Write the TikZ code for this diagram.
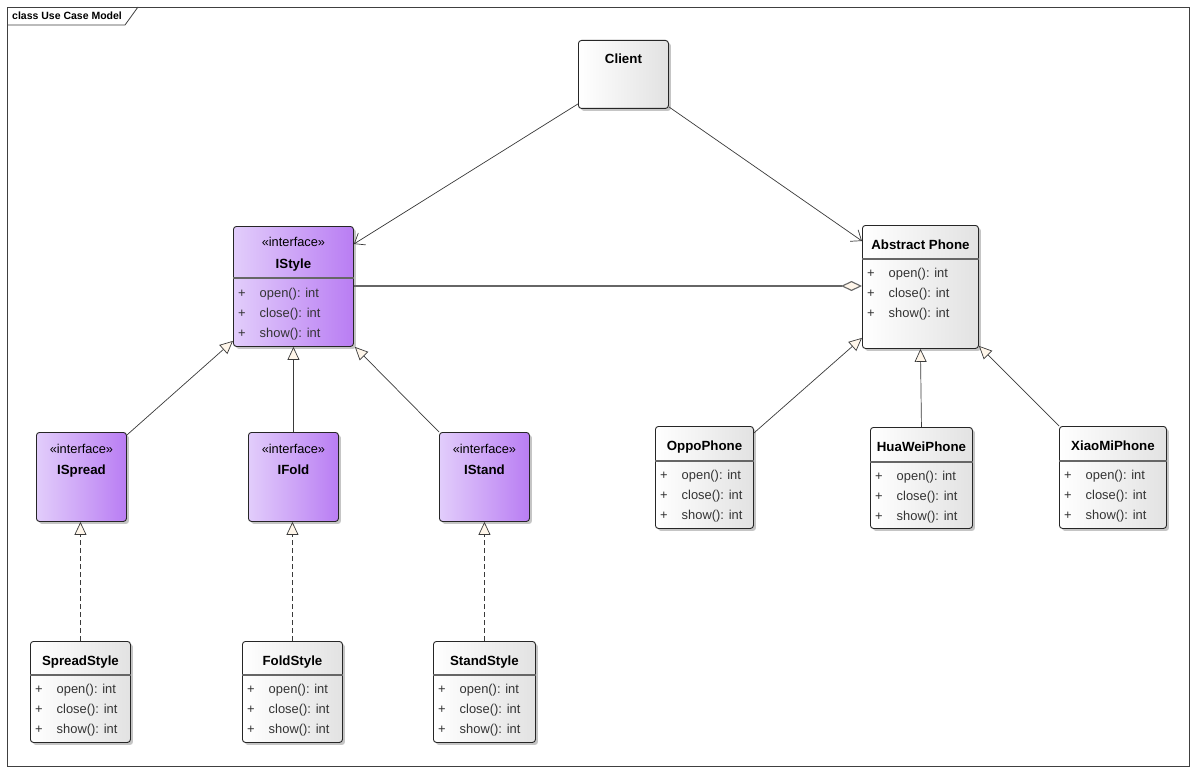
\documentclass[tikz,border=0pt]{standalone}
\usepackage{fontspec}
\setmainfont{Liberation Sans}
\usepackage{tikz}
\usetikzlibrary{arrows.meta, shadows}
\definecolor{IfcLight}{HTML}{E2CDFB}
\definecolor{IfcDark}{HTML}{B97DF3}
\definecolor{ClsGray}{HTML}{E2E2E2}
\definecolor{TipFill}{HTML}{FFF6EA}
\definecolor{LineGray}{HTML}{3A3A3A}
\tikzset{
  box/.style={rectangle, rounded corners=3pt, draw=black!85, line width=0.9pt,
              anchor=north west, inner sep=0,
              drop shadow={shadow xshift=2.5pt, shadow yshift=-2.5pt, fill=black!45, opacity=0.5}},
  cls/.style={box, left color=white, right color=ClsGray},
  ifc/.style={box, left color=IfcLight, right color=IfcDark},
  ttl/.style={font=\fontsize{13.3}{15}\selectfont\bfseries, inner sep=0, anchor=base},
  ster/.style={font=\fontsize{12.8}{15}\selectfont, inner sep=0, anchor=base},
  op/.style={font=\fontsize{12.9}{15}\selectfont, inner sep=0, anchor=base west, text=black!80},
  sep/.style={line width=1.4pt, draw=black!60},
  assoc/.style={-{Straight Barb[length=9pt,width=14pt]}, line width=0.7pt, draw=LineGray},
  gen/.style={-{Triangle[length=13pt,width=12pt,fill=TipFill]}, line width=0.7pt, draw=LineGray},
  real/.style={gen, dash pattern=on 5pt off 3pt},
  aggr/.style={-{Diamond[length=21pt,width=10pt,fill=TipFill]}, line width=1.1pt, draw=black!60},
}

\begin{document}
\begin{tikzpicture}[x=1pt, y=-1pt]

  \fill[white] (0,0) rectangle (1196,773);
  \useasboundingbox (0,0) rectangle (1196,773);

  % Frame
  \draw[black!75, line width=0.8pt] (7,7) rectangle (1189,766);
  \draw[black!75, line width=0.8pt] (7,25) -- (125,25) -- (138,7);
  \node[font=\fontsize{10.5}{12}\selectfont\bfseries, inner sep=0, anchor=base west] (frame) at (12,20)
    {class Use Case Model};

  % Client
  \node[cls, minimum width=90, minimum height=68] (client) at (578,40) {};
  \node[ttl] (client-t) at ([yshift=-24]client.north) {Client};

  % IStyle
  \node[ifc, minimum width=120, minimum height=120] (istyle) at (233,226) {};
  \node[ster] (istyle-s) at ([yshift=-20.5]istyle.north) {«interface»};
  \node[ttl] (istyle-t) at ([yshift=-42]istyle.north) {IStyle};

  % Abstract Phone
  \node[cls, minimum width=116, minimum height=123] (absphone) at (862,225) {};
  \node[ttl] (absphone-t) at ([yshift=-24]absphone.north) {Abstract Phone};

  % sub interfaces
  \node[ifc, minimum width=90, minimum height=89] (ispread) at (36,432) {};
  \node[ster] (ispread-s) at ([yshift=-21.5]ispread.north) {«interface»};
  \node[ttl] (ispread-t) at ([yshift=-42]ispread.north) {ISpread};

  \node[ifc, minimum width=90, minimum height=89] (ifold) at (248,432) {};
  \node[ster] (ifold-s) at ([yshift=-21.5]ifold.north) {«interface»};
  \node[ttl] (ifold-t) at ([yshift=-42]ifold.north) {IFold};

  \node[ifc, minimum width=90, minimum height=89] (istand) at (439,432) {};
  \node[ster] (istand-s) at ([yshift=-21.5]istand.north) {«interface»};
  \node[ttl] (istand-t) at ([yshift=-42]istand.north) {IStand};

  % style classes
  \node[cls, minimum width=100, minimum height=101] (spreadst) at (30,641) {};
  \node[ttl] (spreadst-t) at ([yshift=-24]spreadst.north) {SpreadStyle};

  \node[cls, minimum width=100, minimum height=101] (foldst) at (242,641) {};
  \node[ttl] (foldst-t) at ([yshift=-24]foldst.north) {FoldStyle};

  \node[cls, minimum width=102, minimum height=101] (standst) at (433,641) {};
  \node[ttl] (standst-t) at ([yshift=-24]standst.north) {StandStyle};

  % phones
  \node[cls, minimum width=98, minimum height=102] (oppo) at (655,426) {};
  \node[ttl] (oppo-t) at ([yshift=-24.5]oppo.north) {OppoPhone};

  \node[cls, minimum width=102, minimum height=101] (huawei) at (870,427) {};
  \node[ttl] (huawei-t) at ([yshift=-24.5]huawei.north) {HuaWeiPhone};

  \node[cls, minimum width=107, minimum height=102] (xiaomi) at (1059,426) {};
  \node[ttl] (xiaomi-t) at ([yshift=-24.5]xiaomi.north) {XiaoMiPhone};

  % separators and operations
  \foreach \cl/\sp/\off in {istyle/52/51.5, absphone/34/32.5, spreadst/34/32.5, foldst/34/32.5,
                            standst/34/32.5, oppo/35/33.5, huawei/35/33.5, xiaomi/35/33.5} {
    \draw[sep] ([yshift=-\sp]\cl.north west) -- ([yshift=-\sp]\cl.north east);
    \foreach \op [count=\i] in {open, close, show}
      \node[op] (\cl-\op) at ([xshift=5, yshift=-(\off+20*\i)]\cl.north west) {+\hspace{14pt}\op(): int};
  }

  % Arrows
  \draw[assoc] ([yshift=5]client.south west) -- ([yshift=-18]istyle.north east);
  \draw[assoc] ([yshift=2]client.south east) -- ([yshift=-16]absphone.north west);
  \draw[aggr] ([yshift=-60]istyle.north east) -- ([yshift=-61]absphone.north west);
  \draw[gen] ([yshift=-3]ispread.north east) -- ([yshift=6]istyle.south west);
  \draw[gen] (ifold.north) -- (istyle.south);
  \draw[gen] (istand.north west) -- ([xshift=1]istyle.south east);
  \draw[real] (spreadst.north) -- (spreadst.north |- ispread.south);
  \draw[real] (foldst.north) -- (foldst.north |- ifold.south);
  \draw[real] (standst.north) -- (standst.north |- istand.south);
  \draw[gen] ([yshift=-7]oppo.north east) -- ([yshift=11]absphone.south west);
  \draw[gen] (huawei.north) -- (absphone.south);
  \draw[gen] (xiaomi.north west) -- ([yshift=3]absphone.south east);

\end{tikzpicture}
\end{document}
